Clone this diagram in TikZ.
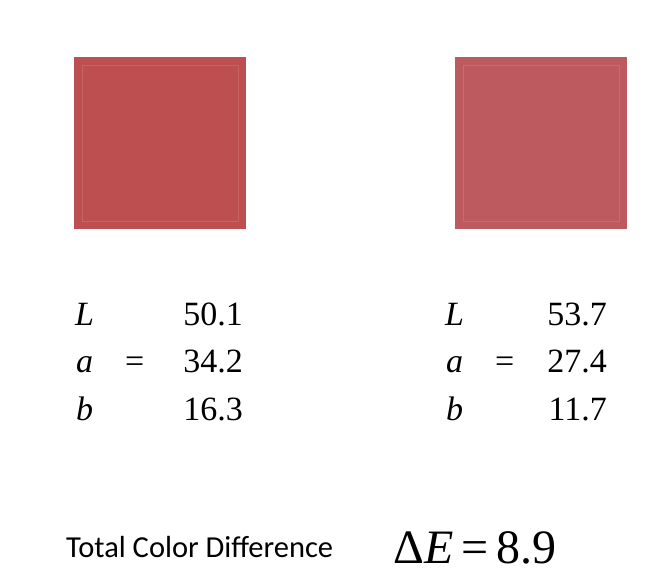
\documentclass[tikz,border=0pt]{standalone}
\usepackage{fontspec}
\setmainfont{Liberation Serif}
\newfontfamily\calib{Carlito}
\definecolor{swatchA}{RGB}{189,79,80}
\definecolor{swatchB}{RGB}{188,90,96}
\begin{document}
\begin{tikzpicture}[x=1pt,y=-1pt,
  swatch/.style={inner sep=0pt, minimum width=172pt, minimum height=172pt, anchor=north west},
  val/.style={inner sep=0pt, font=\fontsize{34}{34}\selectfont},
  lbl/.style={val, anchor=base west},
  num/.style={val, anchor=base east},
  eqs/.style={val, anchor=base west}]
\useasboundingbox[fill=white] (0,0) rectangle (663,576);
% swatches
\node[swatch, fill=swatchA] (sqA) at (74,57) {};
\node[swatch, fill=swatchB] (sqB) at (455,57) {};
\draw[white, opacity=0.12, line width=0.8pt] ([xshift=8pt,yshift=-8pt]sqA.north west) rectangle ([xshift=-8pt,yshift=8pt]sqA.south east);
\draw[white, opacity=0.12, line width=0.8pt] ([xshift=8pt,yshift=-8pt]sqB.north west) rectangle ([xshift=-8pt,yshift=8pt]sqB.south east);
% left values
\node[lbl] (lL) at (75,325) {\textit{L}};
\node[lbl] (la) at (76,372) {\textit{a}};
\node[lbl] (lb) at (76,420) {\textit{b}};
\node[eqs] (leq) at (125,372) {=};
\node[num] (lv1) at (243,325) {50.1};
\node[num] (lv2) at (243,372) {34.2};
\node[num] (lv3) at (243,420) {16.3};
% right values
\node[lbl] (rL) at (445,325) {\textit{L}};
\node[lbl] (ra) at (446,372) {\textit{a}};
\node[lbl] (rb) at (446,420) {\textit{b}};
\node[eqs] (req) at (495,372) {=};
\node[num] (rv1) at (607,325) {53.7};
\node[num] (rv2) at (607,372) {27.4};
\node[num] (rv3) at (607,420) {11.7};
% bottom
\node[inner sep=0pt, anchor=base west, font=\calib\fontsize{30.5}{30.5}\selectfont] (tcd) at (66,557) {Total Color Difference};
\node[inner sep=0pt, anchor=base west, font=\fontsize{48}{48}\selectfont] (dE) at (393,563) {Δ\textit{E}\,=\,8.9};
\end{tikzpicture}
\end{document}
